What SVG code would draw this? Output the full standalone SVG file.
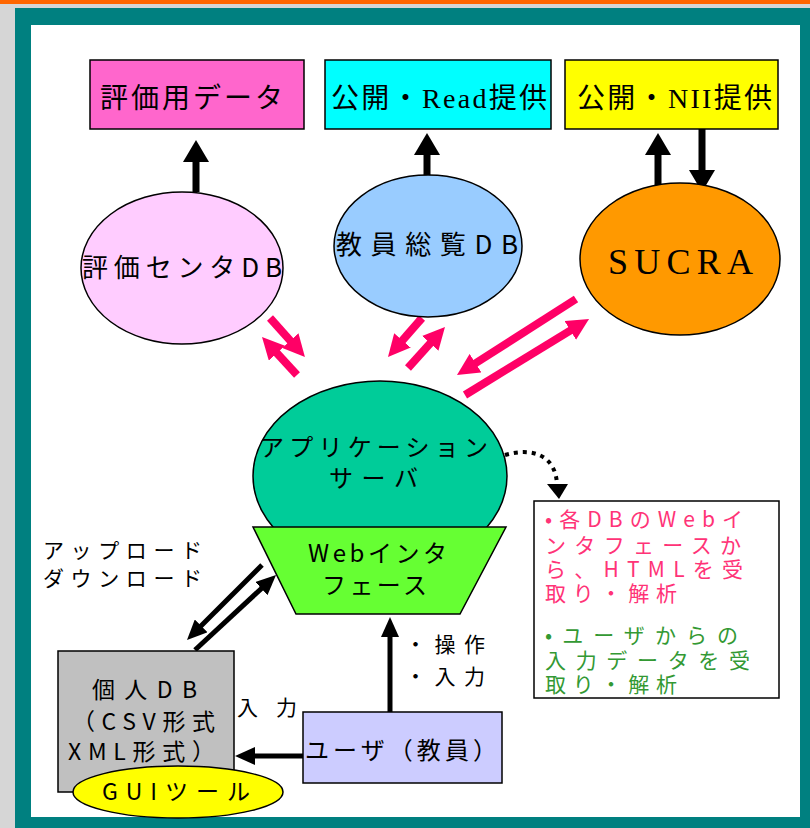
<svg xmlns="http://www.w3.org/2000/svg" width="810" height="828" viewBox="0 0 810 828">
<style>
  text { font-family: "Noto Sans CJK JP", "Noto Sans", sans-serif; fill: #000; }
  .box { stroke: #000; stroke-width: 1.5; }
  .node { stroke: #000; stroke-width: 1.5; }
  .pk { stroke: #FF0066; stroke-width: 8; fill: none; }
  .bk { stroke: #000; stroke-width: 7; fill: none; }
  .bs { stroke: #000; stroke-width: 5; fill: none; }
  .t28 { font-size: 28px; }
  .t26 { font-size: 26px; }
  .t24 { font-size: 24px; }
  .t23 { font-size: 23px; }
  .t21 { font-size: 21px; }
  .note { font-size: 21px; }
  .red { fill: #FF3377; }
  .grn { fill: #339933; }
</style>
<defs>
  <marker id="mPk" markerUnits="userSpaceOnUse" markerWidth="22" markerHeight="22" refX="8" refY="11" orient="auto">
    <path d="M0,0 L22,11 L0,22 z" fill="#FF0066"/>
  </marker>
  <marker id="mBk" markerUnits="userSpaceOnUse" markerWidth="22" markerHeight="26" refX="8" refY="13" orient="auto">
    <path d="M0,0 L22,13 L0,26 z" fill="#000"/>
  </marker>
  <marker id="mBs" markerUnits="userSpaceOnUse" markerWidth="20" markerHeight="18" refX="7" refY="9" orient="auto">
    <path d="M0,0 L20,9 L0,18 z" fill="#000"/>
  </marker>
</defs>

<!-- page frame -->
<g id="frame">
  <rect x="0" y="0" width="810" height="828" fill="#D6D6D6"/>
  <rect x="0" y="0" width="810" height="4" fill="#FF6600"/>
  <rect x="15" y="8" width="795" height="820" fill="#008080"/>
  <rect x="31" y="25" width="769" height="792" fill="#FFFFFF"/>
</g>

<!-- connectors -->
<g id="connectors">
  <!-- top black arrows -->
  <line class="bk" x1="196" y1="192" x2="196" y2="154" marker-end="url(#mBk)"/>
  <line class="bk" x1="427" y1="176" x2="427" y2="147" marker-end="url(#mBk)"/>
  <line class="bk" x1="658" y1="192" x2="658" y2="147" marker-end="url(#mBk)"/>
  <line class="bk" x1="702" y1="129" x2="702" y2="178" marker-end="url(#mBk)"/>
  <!-- pink arrows -->
  <line class="pk" x1="270" y1="318" x2="295.6" y2="346.6" marker-end="url(#mPk)"/>
  <line class="pk" x1="297" y1="375" x2="271.5" y2="347.3" marker-end="url(#mPk)"/>
  <line class="pk" x1="422" y1="318" x2="397.2" y2="346.4" marker-end="url(#mPk)"/>
  <line class="pk" x1="408" y1="368" x2="435.6" y2="337.4" marker-end="url(#mPk)"/>
  <line class="pk" x1="576" y1="299" x2="468.8" y2="367.5" marker-end="url(#mPk)"/>
  <line class="pk" x1="465" y1="395" x2="577.1" y2="326.3" marker-end="url(#mPk)"/>
</g>

<!-- top boxes -->
<g id="box-hyouka-data">
  <rect class="box" x="90" y="60" width="214" height="69" fill="#FF66CC"/>
  <text class="t28" x="100" y="108" textLength="183" lengthAdjust="spacing">評価用データ</text>
</g>
<g id="box-read">
  <rect class="box" x="325" y="60" width="226" height="69" fill="#00FFFF"/>
  <text class="t28" x="331" y="108" textLength="216" lengthAdjust="spacing">公開・<tspan font-family="Liberation Serif">Read</tspan>提供</text>
</g>
<g id="box-nii">
  <rect class="box" x="565" y="60" width="213" height="69" fill="#FFFF00"/>
  <text class="t28" x="577" y="108" textLength="195" lengthAdjust="spacing">公開・<tspan font-family="Liberation Serif">NII</tspan>提供</text>
</g>

<!-- DB circles -->
<g id="hyouka-center-db">
  <ellipse class="node" cx="182" cy="268" rx="101" ry="76" fill="#FFCCFF"/>
  <text class="t26" x="82" y="277" textLength="200" lengthAdjust="spacing">評価センタDB</text>
</g>
<g id="kyouin-db">
  <ellipse class="node" cx="428" cy="246" rx="94" ry="71" fill="#99CCFF"/>
  <text class="t26" x="336" y="254" textLength="182" lengthAdjust="spacing">教員総覧DB</text>
</g>
<g id="sucra">
  <ellipse class="node" cx="680" cy="259" rx="100" ry="76" fill="#FF9900"/>
  <text x="608" y="274" font-size="36" textLength="145" lengthAdjust="spacing" style="font-family:'Liberation Serif',serif">SUCRA</text>
</g>

<!-- application server + web interface -->
<g id="app-server">
  <ellipse class="node" cx="380" cy="476" rx="127" ry="95" fill="#00CC99"/>
  <text class="t24" x="260" y="456" textLength="228" lengthAdjust="spacing">アプリケーション</text>
  <text class="t24" x="329" y="487" textLength="89" lengthAdjust="spacing">サーバ</text>
</g>
<g id="web-interface">
  <polygon class="node" points="253,527 506,527 460,614 296,614" fill="#66FF33"/>
  <text class="t24" x="308" y="562" textLength="139" lengthAdjust="spacing">Webインタ</text>
  <text class="t24" x="322" y="594" textLength="105" lengthAdjust="spacing">フェース</text>
</g>

<!-- dotted arrow to note -->
<g id="note-link">
  <path d="M505,455 C532,447 556,455 557,485" fill="none" stroke="#000" stroke-width="4" stroke-dasharray="4 5"/>
  <polygon points="547,484 568,484 559,499" fill="#000"/>
</g>

<!-- note box -->
<g id="note">
  <rect x="534" y="501" width="245" height="197" fill="#FFFFFF" stroke="#000" stroke-width="1.5"/>
  <text class="note red" x="545" y="527" textLength="198" lengthAdjust="spacing">•各DBのWebイ</text>
  <text class="note red" x="545" y="553" textLength="196" lengthAdjust="spacing">ンタフェースか</text>
  <text class="note red" x="545" y="577" textLength="198" lengthAdjust="spacing">ら、HTMLを受</text>
  <text class="note red" x="545" y="601" textLength="132" lengthAdjust="spacing">取り・解析</text>
  <text class="note grn" x="545" y="643" textLength="193" lengthAdjust="spacing">•ユーザからの</text>
  <text class="note grn" x="545" y="668" textLength="205" lengthAdjust="spacing">入力データを受</text>
  <text class="note grn" x="545" y="692" textLength="132" lengthAdjust="spacing">取り・解析</text>
</g>

<!-- upload/download labels and arrows -->
<g id="updown">
  <text class="t21" x="43" y="558" textLength="159" lengthAdjust="spacing">アップロード</text>
  <text class="t21" x="43" y="586" textLength="159" lengthAdjust="spacing">ダウンロード</text>
  <line class="bs" x1="262" y1="565" x2="196.2" y2="630.8" marker-end="url(#mBs)"/>
  <line class="bs" x1="195" y1="650" x2="266.5" y2="583.8" marker-end="url(#mBs)"/>
</g>

<!-- personal DB -->
<g id="personal-db">
  <rect class="box" x="58" y="651" width="176" height="141" fill="#C0C0C0"/>
  <text class="t23" x="92" y="698" textLength="105" lengthAdjust="spacing">個人DB</text>
  <text class="t23" x="72" y="730" textLength="143" lengthAdjust="spacing">（CSV形式</text>
  <text class="t23" x="68" y="760" textLength="147" lengthAdjust="spacing">XML形式）</text>
</g>
<g id="gui-tool">
  <ellipse class="node" cx="178" cy="792" rx="105" ry="26" fill="#FFFF00"/>
  <text class="t23" x="102" y="800" textLength="148" lengthAdjust="spacing">GUIツール</text>
</g>

<!-- user -->
<g id="user">
  <rect class="box" x="303" y="712" width="199" height="71" fill="#CCCCFF"/>
  <text class="t24" x="305" y="759" textLength="192" lengthAdjust="spacing">ユーザ（教員）</text>
</g>

<g id="user-links">
  <line class="bs" x1="303" y1="756" x2="248" y2="756" marker-end="url(#mBs)"/>
  <line class="bs" x1="390" y1="712" x2="390" y2="630" marker-end="url(#mBs)"/>
  <text class="t21" x="237" y="715" textLength="60" lengthAdjust="spacing">入力</text>
  <text class="t21" x="405" y="652" textLength="80" lengthAdjust="spacing">・操作</text>
  <text class="t21" x="405" y="684" textLength="80" lengthAdjust="spacing">・入力</text>
</g>
</svg>
